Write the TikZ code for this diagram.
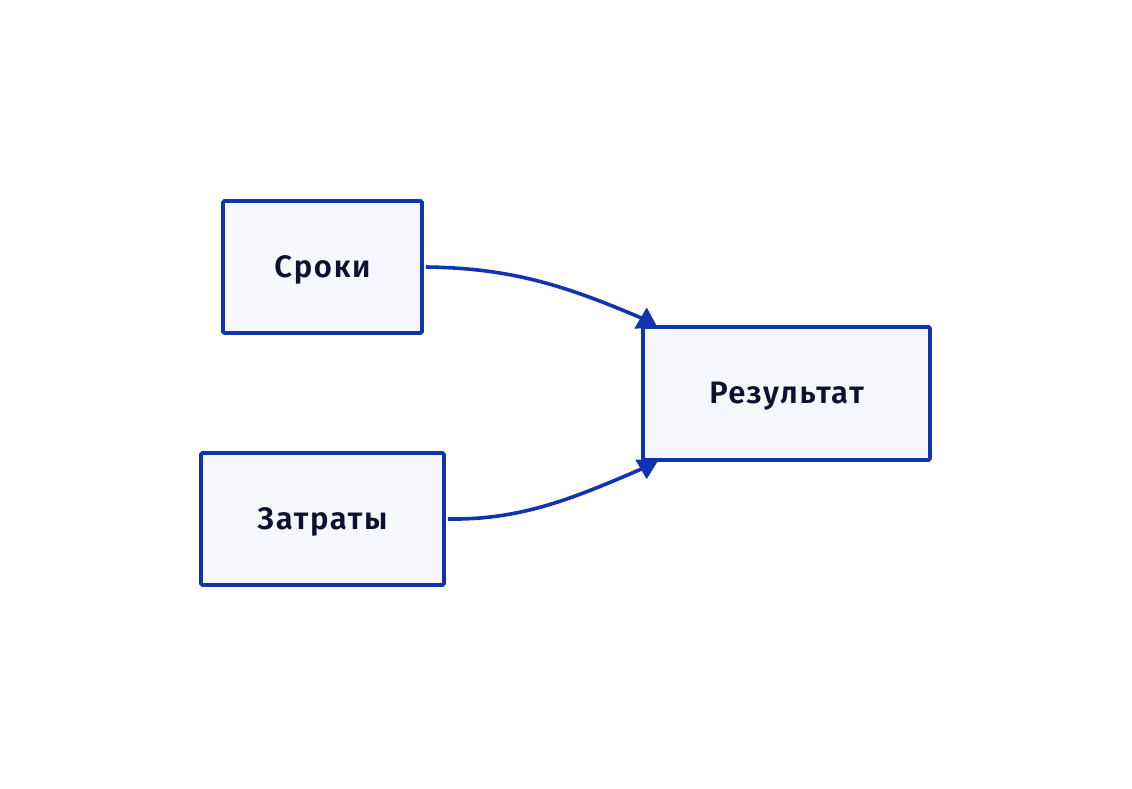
\documentclass[tikz,border=0pt]{standalone}
\usepackage{fontspec}
\setmainfont{Fira Sans}[UprightFont={* SemiBold}, LetterSpace=5.5]
\definecolor{edgeblue}{HTML}{1034B0}
\definecolor{boxfill}{HTML}{F5F7FC}
\definecolor{txt}{HTML}{0D1130}
\begin{document}
\begin{tikzpicture}[x=1pt,y=-1pt,
  box/.style={draw=edgeblue, fill=boxfill, line width=3.6pt, rounded corners=1.5pt,
    inner sep=0pt, anchor=center},
  lbl/.style={text=txt, font=\fontsize{31}{34}\selectfont, inner sep=0pt},
  conn/.style={draw=edgeblue, line width=3.6pt},
  tipfill/.style={fill=edgeblue, draw=edgeblue, line width=0.8pt, line join=round}]
\useasboundingbox (0,0) rectangle (1132,788);
\node[box, minimum width=199pt, minimum height=132pt] (s) at (322.5,267) {};
\node[box, minimum width=243pt, minimum height=132pt] (z) at (322.5,519) {};
\node[box, minimum width=287pt, minimum height=133pt] (r) at (786.5,393.5) {};
\node[lbl] (st) at ([yshift=-3pt]s.center) {Сроки};
\node[lbl] (zt) at ([yshift=-3pt]z.center) {Затраты};
\node[lbl] (rt) at ([yshift=-3pt]r.center) {Результат};
\coordinate (e1) at (646,320);
\coordinate (e2) at (646,467);
\draw[conn] (s.east) ++(2,0) coordinate (s1) .. controls (510,268) and (565,285) .. (e1);
\draw[conn] (z.east) ++(2,0) coordinate (z1) .. controls (520,520) and (570,500) .. (e2);
\fill[tipfill] (e1) ++(0.7,-11.7) -- ++(-11.7,20) -- ++(21.7,-1.6) -- cycle;
\fill[tipfill] (e2) ++(-10,-7) -- ++(22,0) -- ++(-11.3,18.3) -- cycle;
\end{tikzpicture}
\end{document}
